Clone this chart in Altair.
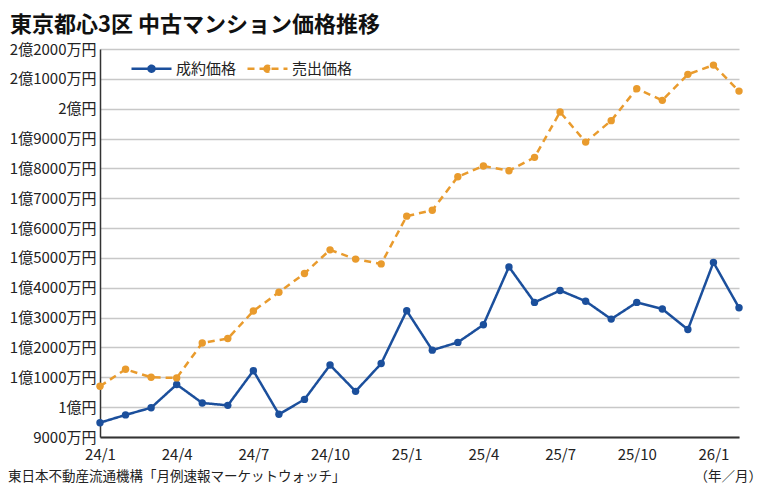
import altair as alt
import pandas as pd


# ── data (万円) ────────────────────────────────────────────────────────────────

TITLE = "東京都心3区 中古マンション価格推移"
SOURCE = "東日本不動産流通機構「月例速報マーケットウォッチ」"
UNIT = "（年／月）"

MONTHS = [
    "24/1", "24/2", "24/3", "24/4", "24/5", "24/6", "24/7", "24/8", "24/9",
    "24/10", "24/11", "24/12", "25/1", "25/2", "25/3", "25/4", "25/5", "25/6",
    "25/7", "25/8", "25/9", "25/10", "25/11", "25/12", "26/1", "26/2",
]
MONTH_TICKS = ["24/1", "24/4", "24/7", "24/10", "25/1", "25/4", "25/7", "25/10", "26/1"]

SERIES = ["成約価格", "売出価格"]

CONTRACT = [
    9480, 9740, 9980, 10760, 10140, 10060, 11220, 9760, 10260,
    11410, 10530, 11460, 13230, 11910, 12170, 12760, 14700, 13510,
    13910, 13550, 12950, 13510, 13290, 12600, 14850, 13330,
]
LISTING = [
    10700, 11270, 11000, 10980, 12150, 12300, 13220, 13850, 14480,
    15270, 14960, 14800, 16400, 16600, 17720, 18080, 17920, 18370,
    19890, 18880, 19600, 20670, 20280, 21150, 21460, 20590,
]

Y_TICKS = [9000, 10000, 11000, 12000, 13000, 14000, 15000,
           16000, 17000, 18000, 19000, 20000, 21000, 22000]


# ── style ──────────────────────────────────────────────────────────────────────

FONT = "Noto Sans CJK JP"
COLORS = ["#1b4f9c", "#e99b2d"]
DASHES = [[1, 0], [7, 5]]
W, H = 639, 388
PAD = {"left": 92, "top": 41, "right": 23, "bottom": 47}

df = pd.concat([
    pd.DataFrame({"month": MONTHS, "value": CONTRACT, "series": SERIES[0]}),
    pd.DataFrame({"month": MONTHS, "value": LISTING, "series": SERIES[1]}),
], ignore_index=True)

# line through a dot, inside the -1..1 symbol box
SYMBOL = "M-1,0H1M-0.15,0A0.15,0.15,0,1,1,0.15,0A0.15,0.15,0,1,1,-0.15,0Z"

legend = alt.Legend(
    title=None, orient="none", legendX=30, legendY=-2, direction="horizontal",
    symbolType=SYMBOL, symbolSize=1600, symbolStrokeWidth=2.5,
    labelFont=FONT, labelFontSize=15, labelColor="#222",
    labelOffset=3, columnPadding=5, padding=0,
)

y_label = (
    "datum.value < 10000 ? datum.value + '万円' : "
    "floor(datum.value / 10000) + '億' + "
    "(datum.value % 10000 == 0 ? '' : (datum.value % 10000) + '万') + '円'"
)

x = alt.X(
    "month:O", sort=MONTHS,
    scale=alt.Scale(type="point", domain=MONTHS, padding=0),
    axis=alt.Axis(
        values=MONTH_TICKS, labelAngle=0, ticks=False, grid=False,
        domainColor="#333", domainWidth=2, labelPadding=10,
        labelFont=FONT, labelFontSize=15, labelColor="#222",
        labelOverlap=False, title=None,
    ),
)
y = alt.Y(
    "value:Q",
    scale=alt.Scale(domain=[9000, 22000], nice=False, zero=False),
    axis=alt.Axis(
        values=Y_TICKS, labelExpr=y_label, ticks=False,
        grid=True, gridColor="#c8c8c8", gridWidth=1.3,
        domainColor="#333", domainWidth=1.5, labelPadding=4,
        labelFont=FONT, labelFontSize=15, labelColor="#222", title=None,
    ),
)
color_scale = alt.Scale(domain=SERIES, range=COLORS)

base = alt.Chart(df)

lines = base.mark_line(strokeWidth=2.5).encode(
    x=x, y=y,
    stroke=alt.Stroke("series:N", scale=color_scale, legend=legend),
    strokeDash=alt.StrokeDash("series:N", scale=alt.Scale(domain=SERIES, range=DASHES), legend=legend),
)

dots = base.mark_point(filled=True, size=55, opacity=1).encode(
    x=x, y=y,
    fill=alt.Fill("series:N", scale=color_scale, legend=legend),
)

source = alt.Chart(pd.DataFrame({"t": [SOURCE]})).mark_text(
    align="left", baseline="alphabetic", font=FONT, fontSize=13.5, color="#222",
).encode(text="t:N", x=alt.value(-PAD["left"]), y=alt.value(H + 44))

unit = alt.Chart(pd.DataFrame({"t": [UNIT]})).mark_text(
    align="right", baseline="alphabetic", font=FONT, fontSize=13.5, color="#222",
).encode(text="t:N", x=alt.value(W + PAD["right"]), y=alt.value(H + 44))

chart = (
    (lines + dots + source + unit)
    .properties(
        width=W, height=H,
        autosize=alt.AutoSizeParams(type="none"),
        padding=PAD,
        title=alt.TitleParams(
            text=TITLE, anchor="start", font=FONT, fontSize=22,
            fontWeight="bold", color="#111", offset=5, dx=2,
        ),
    )
    .configure_view(stroke=None)
)

chart.save("out.html", embed_options={"renderer": "svg", "actions": False})
